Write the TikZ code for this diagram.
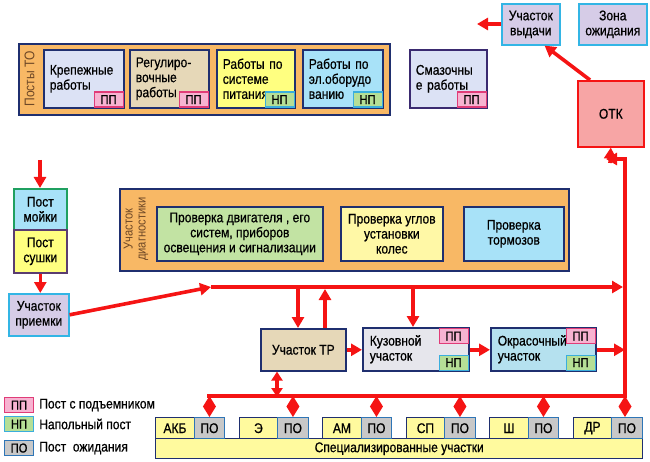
\documentclass[tikz,border=0pt]{standalone}
\usepackage{fontspec}
\setmainfont{Liberation Sans}[FakeStretch=0.86, FakeBold=0.7]
\newfontfamily\thinlbl{Liberation Sans}[FakeStretch=0.86]
\usetikzlibrary{arrows.meta}
\definecolor{navy}{HTML}{1F2F6F}
\definecolor{orangef}{HTML}{F8B865}
\definecolor{lavA}{HTML}{DCE2F5}
\definecolor{beige}{HTML}{E6D8B8}
\definecolor{yel}{HTML}{FFFF80}
\definecolor{cyanf}{HTML}{A8E2F8}
\definecolor{lavB}{HTML}{D6CCE7}
\definecolor{cyanb}{HTML}{33B5E5}
\definecolor{pinkf}{HTML}{F7B3D1}
\definecolor{pinkb}{HTML}{E03C78}
\definecolor{greenf}{HTML}{B5DF96}
\definecolor{greenb}{HTML}{3AAEDD}
\definecolor{grayf}{HTML}{C8C8C8}
\definecolor{blueb}{HTML}{2E75B6}
\definecolor{otkf}{HTML}{F7A5A5}
\definecolor{redl}{HTML}{F51414}
\definecolor{diagg}{HTML}{C2E3A3}
\definecolor{diagy}{HTML}{FFF8A6}
\definecolor{marble}{HTML}{E6E6EC}
\definecolor{okrf}{HTML}{B5E1EF}
\definecolor{baryel}{HTML}{FFFA9E}
\definecolor{moyb}{HTML}{1FA060}
\definecolor{sushb}{HTML}{5A3C70}
\definecolor{smazb}{HTML}{3A2A70}
\definecolor{labelc}{HTML}{6E4826}
\tikzset{
  x=1pt, y=-1pt,
  txt/.style={font=\fontsize{14}{15}\selectfont, text=black},
  rect/.style={txt, anchor=north west, inner sep=0pt, align=center},
  tobox/.style={rect, draw=navy, line width=1.6pt, align=left, inner xsep=6pt},
  tagbox/.style={font=\fontsize{13}{13}\selectfont, inner sep=0pt, minimum width=29pt, minimum height=15pt, line width=1.1pt},
  tagpp/.style={tagbox, draw=pinkb, fill=pinkf},
  tagnp/.style={tagbox, draw=greenb, fill=greenf},
  tagpo/.style={tagbox, draw=blueb, fill=grayf},
  lavbox/.style={rect, draw=cyanb, fill=lavB, line width=1.6pt},
  rline/.style={draw=redl, line width=3.6pt},
  rarr/.style={rline, -{Triangle[length=11pt,width=12pt]}},
  rdbl/.style={rline, {Triangle[length=9pt,width=11pt]}-{Triangle[length=9pt,width=11pt]}},
  rdia/.style={rline, line width=2pt, -{Kite[length=21pt,width=13pt,inset=10.5pt]}},
  secname/.style={rect, draw=navy, fill=baryel, line width=1.4pt, minimum width=38.5pt, minimum height=21pt},
  secpo/.style={rect, draw=blueb, fill=grayf, line width=1.4pt, minimum width=30.5pt, minimum height=21pt},
  legtxt/.style={txt, anchor=west, inner sep=0pt}
}
\begin{document}
\begin{tikzpicture}
\useasboundingbox (0,0) rectangle (650,462);
% ---- Посты ТО
\node[rect, draw=navy, fill=orangef, line width=1.6pt, minimum width=371pt, minimum height=71pt] (posty) at (18,43) {};
\node[font=\thinlbl\fontsize{14}{15}\selectfont, rotate=90, text=labelc] (postylbl) at (29.5,79) {Посты ТО};
\node[tobox, fill=lavA, minimum width=80pt, minimum height=58pt, text width=68pt] (kr) at (43,49) {Крепежные\\работы};
\node[tobox, fill=beige, minimum width=79pt, minimum height=58pt, text width=67pt] (reg) at (129,49) {Регулиро-\\вочные\\работы};
\node[tobox, fill=yel, minimum width=78pt, minimum height=58pt, text width=66pt] (pit) at (216,49) {Работы по\\системе\\питания};
\node[tobox, fill=cyanf, minimum width=80pt, minimum height=58pt, text width=68pt] (el) at (302,49) {Работы по\\эл.оборудо\\ванию};
\node[tagpp, anchor=south east] (krpp) at ([shift={(-1,-1)}]kr.south east) {ПП};
\node[tagpp, anchor=south east] (regpp) at ([shift={(-1,-1)}]reg.south east) {ПП};
\node[tagnp, anchor=south east] (pitnp) at ([shift={(-1,-1)}]pit.south east) {НП};
\node[tagnp, anchor=south east] (elnp) at ([shift={(-1,-1)}]el.south east) {НП};
\node[tobox, draw=smazb, fill=lavA, minimum width=77pt, minimum height=58pt, text width=65pt] (smaz) at (409,49) {Смазочны\\е работы};
\node[tagpp, anchor=south east] (smazpp) at ([shift={(-1,-1)}]smaz.south east) {ПП};
% ---- выдача, ожидание, ОТК
\node[lavbox, minimum width=58pt, minimum height=41pt] (vyd) at (501,3) {Участок\\выдачи};
\node[lavbox, minimum width=68pt, minimum height=41pt] (ozh) at (578,3) {Зона\\ожидания};
\node[rect, draw=redl, fill=otkf, line width=1.6pt, minimum width=66pt, minimum height=66pt] (otk) at (577,80) {ОТК};
\coordinate (vydout) at (477,24);
\draw[rarr] (vyd.west |- vydout) -- (vydout);
\draw[rarr] ([xshift=13pt]otk.north west) -- ([xshift=-16pt]vyd.south east);
% ---- мойка, сушка, приемка
\coordinate (inflow) at (40,160);
\node[rect, draw=moyb, fill=cyanf, line width=1.6pt, minimum width=53pt, minimum height=41pt] (moy) at (13,188) {Пост\\мойки};
\node[rect, draw=sushb, fill=yel, line width=1.6pt, minimum width=53pt, minimum height=43pt] (sush) at (13,229) {Пост\\сушки};
\node[lavbox, minimum width=60pt, minimum height=42pt] (priem) at (8,293) {Участок\\приемки};
\draw[rarr] (inflow) -- (inflow |- moy.north);
\draw[rarr] (sush.south) -- (sush.south |- priem.north);
% ---- диагностика
\node[rect, draw=navy, fill=orangef, line width=1.6pt, minimum width=449pt, minimum height=82pt] (diag) at (119,188) {};
\node[font=\thinlbl\fontsize{13}{13}\selectfont, text=labelc, rotate=90, align=center] (diaglbl) at (136,229) {Участок\\диагностики};
\node[rect, draw=navy, fill=diagg, line width=1.6pt, minimum width=166pt, minimum height=54pt] (d1) at (156,206) {Проверка двигателя , его\\систем, приборов\\освещения и сигнализации};
\node[rect, draw=navy, fill=diagy, line width=1.6pt, minimum width=102pt, minimum height=54pt] (d2) at (340,206) {Проверка углов\\установки\\колес};
\node[rect, draw=navy, fill=cyanf, line width=1.6pt, minimum width=100pt, minimum height=54pt] (d3) at (463,206) {Проверка\\тормозов};
% ---- ТР, кузовной, окрасочный
\node[rect, draw=navy, fill=beige, line width=1.6pt, minimum width=85pt, minimum height=42pt] (tr) at (260,328) {Участок ТР};
\node[tobox, fill=marble, minimum width=106pt, minimum height=43pt, text width=92pt, inner xsep=7pt] (kuz) at (362,327) {Кузовной\\участок};
\node[tobox, fill=okrf, minimum width=105pt, minimum height=43pt, text width=91pt, inner xsep=7pt] (okr) at (490,327) {Окрасочный\\участок};
\node[tagpp, anchor=north east] (kuzpp) at ([shift={(-1,1)}]kuz.north east) {ПП};
\node[tagnp, anchor=south east] (kuznp) at ([shift={(-1,-1)}]kuz.south east) {НП};
\node[tagpp, anchor=north east] (okrpp) at ([shift={(-1,1)}]okr.north east) {ПП};
\node[tagnp, anchor=south east] (okrnp) at ([shift={(-1,-1)}]okr.south east) {НП};
% ---- specialised sections
\node[rect, draw=navy, fill=baryel, line width=1.4pt, minimum width=487pt, minimum height=20pt] (bar) at (155,438) {Специализированные участки};
\node[secname] (s1) at (155,417) {АКБ};
\node[secpo] (p1) at (193.5,417) {ПО};
\node[secname] (s2) at (238.5,417) {Э};
\node[secpo] (p2) at (277,417) {ПО};
\node[secname] (s3) at (322,417) {АМ};
\node[secpo] (p3) at (360.5,417) {ПО};
\node[secname] (s4) at (405.5,417) {СП};
\node[secpo] (p4) at (444,417) {ПО};
\node[secname] (s5) at (489,417) {Ш};
\node[secpo] (p5) at (527.5,417) {ПО};
\node[secname] (s6) at (572.5,417) {ДР};
\node[secpo] (p6) at (611,417) {ПО};
% ---- red network
\coordinate (m1) at (211,287);
\coordinate (m2) at (623,287);
\coordinate (bl) at (207,396);
\coordinate (br) at (625,396);
\coordinate (tr1) at (625,159);
\coordinate (tr2) at (606,159);
\draw[rarr] (priem.east) -- (m1);
\draw[rarr] (m1) -- (m2);
\draw[rline, -{Triangle[length=11pt,width=12pt]}] (bl) -- (br) -- (tr1) -- (tr2);
\draw[rarr] (610,163) -- (otk.south);
\draw[rarr] (298,287) -- (298,0 |- tr.north);
\draw[rarr] (325,0 |- tr.north) -- (325,289);
\draw[rarr] (413,287) -- (413,0 |- kuz.north);
\draw[rarr] (tr.east) -- (kuz.west |- tr.east);
\draw[rarr] (kuz.east |- tr.east) -- (okr.west |- tr.east);
\draw[rarr] (okr.east |- tr.east) -- (br |- tr.east);
\draw[rdbl] (277,0 |- tr.south) -- (277,397);
\foreach \p in {p1,p2,p3,p4,p5}{
  \draw[rdia] (\p.north |- bl) -- (\p.north);
}
\draw[rdia] (br) -- (br |- p6.north);
% ---- legend
\node[tagpp, anchor=north west] (lgpp) at (4,397) {ПП};
\node[tagnp, anchor=north west] (lgnp) at (4,416) {НП};
\node[tagpo, anchor=north west] (lgpo) at (4,440) {ПО};
\node[legtxt] (lgppt) at ([xshift=5pt]lgpp.east) {Пост с подъемником};
\node[legtxt] (lgnpt) at ([xshift=5pt]lgnp.east) {Напольный пост};
\node[legtxt] (lgpot) at ([xshift=5pt]lgpo.east) {Пост\ \ ожидания};
\end{tikzpicture}
\end{document}
